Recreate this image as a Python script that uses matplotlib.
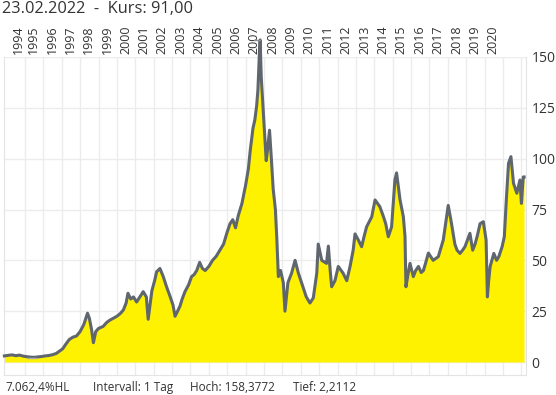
import matplotlib
matplotlib.use('Agg')
import matplotlib.pyplot as plt
import matplotlib.transforms as mtransforms

# Kursverlauf, Werte (Jahr als Dezimalzahl, Kurs)
jahre = [1993.88, 1994.1, 1994.3, 1994.5, 1994.7, 1994.9, 1995.1, 1995.3, 1995.5, 1995.7,
         1995.9, 1996.1, 1996.3, 1996.5, 1996.7, 1996.9, 1997.05, 1997.2, 1997.4, 1997.6,
         1997.8, 1998.0, 1998.2, 1998.4, 1998.5, 1998.62, 1998.72, 1998.85, 1999.0, 1999.25,
         1999.45, 1999.6, 1999.8, 2000.0, 2000.2, 2000.35, 2000.5, 2000.6, 2000.75, 2000.9,
         2001.07, 2001.25, 2001.43, 2001.6, 2001.7, 2001.8, 2001.9, 2002.05, 2002.16, 2002.34,
         2002.52, 2002.7, 2002.9, 2003.05, 2003.16, 2003.3, 2003.43, 2003.55, 2003.7, 2003.9,
         2004.06, 2004.2, 2004.34, 2004.5, 2004.65, 2004.8, 2005.0, 2005.2, 2005.4, 2005.6,
         2005.8, 2006.0, 2006.15, 2006.3, 2006.45, 2006.6, 2006.8, 2007.0, 2007.15, 2007.25,
         2007.4, 2007.5, 2007.6, 2007.67, 2007.75, 2007.79, 2007.85, 2007.95, 2008.05, 2008.12,
         2008.2, 2008.3, 2008.4, 2008.5, 2008.62, 2008.7, 2008.78, 2008.9, 2009.05, 2009.14,
         2009.3, 2009.5, 2009.69, 2009.87, 2010.05, 2010.3, 2010.5, 2010.68, 2010.87, 2010.95,
         2011.14, 2011.4, 2011.5, 2011.6, 2011.68, 2011.86, 2012.04, 2012.3, 2012.5, 2012.68,
         2012.85, 2012.95, 2013.13, 2013.31, 2013.45, 2013.58, 2013.86, 2014.04, 2014.3, 2014.5,
         2014.62, 2014.76, 2014.94, 2015.12, 2015.21, 2015.4, 2015.58, 2015.67, 2015.72, 2015.85,
         2015.94, 2016.12, 2016.25, 2016.4, 2016.55, 2016.67, 2016.8, 2016.94, 2017.2, 2017.48,
         2017.75, 2017.93, 2018.02, 2018.2, 2018.38, 2018.5, 2018.66, 2018.8, 2018.93, 2019.2,
         2019.35, 2019.48, 2019.6, 2019.75, 2019.93, 2020.08, 2020.15, 2020.22, 2020.3, 2020.5,
         2020.65, 2020.77, 2020.95, 2021.07, 2021.18, 2021.3, 2021.43, 2021.57, 2021.75, 2021.92,
         2022.0, 2022.1, 2022.146]
kurs = [3.0, 3.3, 3.5, 3.1, 3.4, 2.9, 2.6, 2.4, 2.3, 2.5,
        2.7, 3.0, 3.2, 3.6, 4.2, 5.5, 6.5, 8.5, 11.0, 12.2,
        12.8, 15.0, 18.5, 24.0, 21.5, 16.0, 9.5, 15.0, 16.5, 17.5,
        19.5, 20.5, 21.5, 22.5, 24.0, 25.6, 29.0, 33.8, 31.0, 32.0,
        29.5, 32.0, 34.6, 32.0, 21.0, 28.0, 35.0, 40.0, 44.4, 46.0,
        42.0, 37.0, 32.0, 28.0, 22.5, 25.0, 27.5, 31.0, 34.6, 38.0,
        42.0, 43.0, 45.0, 49.0, 46.0, 45.0, 47.0, 50.0, 52.0, 55.0,
        58.0, 64.0, 68.0, 70.0, 66.0, 72.0, 78.0, 87.0, 95.0, 104.0,
        115.0, 119.0, 126.0, 134.0, 152.0, 158.4, 140.0, 125.0, 110.0, 99.0,
        105.0, 114.0, 100.0, 85.0, 75.0, 60.0, 42.0, 45.0, 39.0, 25.0,
        39.0, 43.7, 50.0, 43.7, 38.8, 32.0, 29.0, 31.5, 43.7, 58.0,
        50.0, 48.5, 57.0, 45.0, 37.0, 40.0, 47.0, 43.7, 40.0, 47.0,
        55.0, 63.0, 60.0, 56.7, 62.0, 66.5, 71.4, 79.7, 76.4, 71.4,
        68.0, 61.6, 66.5, 89.5, 93.0, 79.7, 71.4, 61.6, 37.0, 44.0,
        48.5, 42.0, 45.0, 47.0, 44.0, 45.0, 49.0, 53.6, 50.0, 51.8,
        60.0, 71.4, 77.0, 68.0, 58.0, 55.0, 53.4, 55.0, 56.7, 63.3,
        55.0, 58.0, 62.0, 68.0, 69.0, 60.0, 32.0, 40.0, 47.0, 53.4,
        50.0, 51.8, 56.7, 61.6, 79.7, 97.7, 101.0, 87.9, 83.0, 89.5,
        78.0, 91.0, 91.0]

jahr_labels = list(range(1994, 2021))
y_ticks = [0, 25, 50, 75, 100, 125, 150]
titel = '23.02.2022  -  Kurs: 91,00'
fuss = ['7.062,4%HL', 'Intervall: 1 Tag', 'Hoch: 158,3772', 'Tief: 2,2112']
hoch = 158.3772
tief = 2.2112

plt.rcParams['font.family'] = ['Open Sans', 'DejaVu Sans']

W, H = 556, 395
fig = plt.figure(figsize=(W / 100, H / 100), dpi=100)
ax = fig.add_axes([4 / W, 20 / H, 522 / W, 318 / H])

x0, x1 = 1993.858, 2022.25
ax.set_xlim(x0, x1)
ax.set_ylim(-6.39, 150)

ax.fill_between(jahre, 0, kurs, color='#fff200', lw=0, clip_on=False, zorder=2)
ax.plot(jahre, kurs, color='#5f666d', lw=2.2, clip_on=False, zorder=3)

# Hoch / Tief Markierung
i_hoch = kurs.index(max(kurs))
ax.plot([jahre[i_hoch] - 0.35, jahre[i_hoch]], [hoch, hoch], color='#8a9096', lw=1,
        clip_on=False, zorder=4)
ax.plot([1995.1, 1995.6], [tief, tief], color='#a8adb2', lw=1, clip_on=False, zorder=4)

# Gitter
ax.set_xticks(range(1995, 2023))
ax.set_yticks(y_ticks)
ax.grid(True, color='#ececec', lw=1, zorder=0)
ax.set_axisbelow(True)
ax.tick_params(axis='x', length=0, labelbottom=False)
ax.yaxis.tick_right()
ax.tick_params(axis='y', length=0, pad=4, labelsize=10, labelcolor='#333333')

for s in ['left', 'right', 'bottom']:
    ax.spines[s].set_color('#e4e4e4')
ax.spines['top'].set_visible(False)

# Jahreszahlen oben, gedreht
trans = mtransforms.blended_transform_factory(ax.transData, ax.transAxes)
for j in jahr_labels:
    xpos = max(j + 0.47, x0 + 0.8)
    ax.text(xpos, 1.0 + 3 / 318, str(j), rotation=90, ha='center', va='bottom',
            fontsize=9, color='#333333', transform=trans)

fig.text(2 / W, 1 - 1 / H, titel, ha='left', va='top', fontsize=11.8, color='#333333')

fuss_x = [5, 93, 190, 293]
for t, xp in zip(fuss, fuss_x):
    fig.text(xp / W, 1 - 391 / H, t, ha='left', va='baseline', fontsize=8.5, color='#333333')

fig.savefig('out.png', dpi=100)
